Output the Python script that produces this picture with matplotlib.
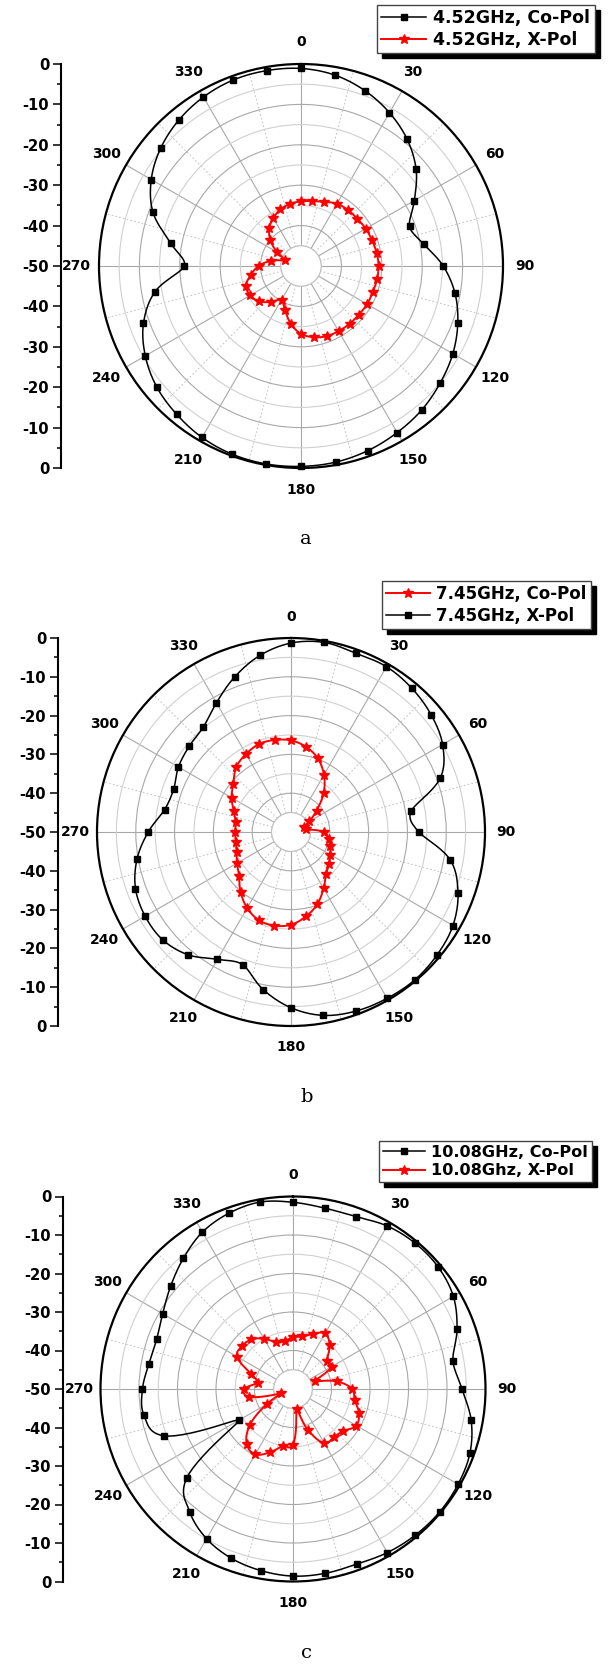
import numpy as np
import matplotlib
matplotlib.use("Agg")
import matplotlib.pyplot as plt
from matplotlib.lines import Line2D
from matplotlib.patches import Circle

# ---------------- data (dB, every 10 degrees, 0..350) ----------------
angles_deg = list(range(0, 360, 10))

a_co = [-1.1, -2.0, -3.8, -6.2, -9.1, -12.8, -17.6, -21.4, -19.1, -14.8, -11.3, -8.7,
        -6.6, -5.0, -3.5, -2.4, -1.4, -0.7, -0.4, -0.25, -0.4, -1.0, -2.1, -3.4,
        -5.5, -8.5, -13.3, -21.1, -17.2, -11.0, -7.2, -4.65, -2.9, -1.7, -1.0, -0.9]
a_x = [-34.0, -33.7, -33.1, -32.2, -31.9, -31.8, -31.5, -31.3, -31.0, -30.8, -30.9, -31.1,
       -31.1, -31.3, -31.3, -31.4, -31.5, -32.1, -33.2, -35.5, -38.4, -40.4, -38.4, -36.4,
       -35.5, -35.5, -37.4, -39.5, -42.5, -45.8, -43.2, -40.1, -37.8, -36.3, -35.1, -34.4]

b_co = [-26.4, -27.7, -29.8, -33.0, -36.9, -41.4, -44.5, -46.4, -46.1, -41.6, -40.1, -39.2,
        -38.3, -37.2, -35.9, -33.2, -30.2, -27.9, -26.1, -25.5, -25.8, -27.4, -29.8, -32.5,
        -33.9, -35.1, -35.5, -35.65, -35.5, -34.3, -32.3, -30.6, -28.1, -26.8, -25.9, -25.9]
b_x = [-1.3, -0.4, -1.0, -0.8, -1.6, -2.9, -4.9, -9.0, -18.5, -17.05, -8.3, -4.2,
       -1.8, -0.8, -0.3, -0.5, -0.9, -2.0, -4.7, -8.75, -13.6, -12.1, -8.7, -6.8,
       -6.6, -7.35, -9.7, -13.2, -16.9, -17.8, -16.5, -15.7, -14.8, -11.55, -7.5, -3.8]

c_co = [-1.5, -2.3, -2.35, -1.1, -0.6, -0.75, -1.9, -4.65, -7.8, -6.1, -3.0, -1.1,
        -0.5, -0.3, -0.5, -0.95, -1.6, -1.4, -1.4, -2.1, -3.2, -5.1, -8.3, -13.9,
        -33.7, -14.4, -10.7, -10.9, -12.0, -12.3, -10.9, -8.5, -5.7, -2.95, -1.4, -0.7]
c_x = [-36.5, -36.15, -34.8, -33.3, -35.2, -38.5, -38.4, -43.9, -38.5, -34.6, -33.75, -31.8,
       -31.0, -33.0, -33.6, -33.7, -38.7, -44.7, -35.5, -35.0, -32.5, -30.4, -31.3, -35.3,
       -42.1, -46.6, -38.4, -37.4, -40.7, -38.4, -33.2, -32.7, -33.2, -34.9, -37.1, -37.4]

angle_ticks = list(range(0, 360, 30))
angle_labels = [str(a) for a in angle_ticks]
side_tick_pos = [50, 40, 30, 20, 10, 0, -10, -20, -30, -40, -50]
side_tick_labels = ['0', '-10', '-20', '-30', '-40', '-50', '-40', '-30', '-20', '-10', '0']

panels = [
    dict(cx=301, cy=266, R=202, axx=61, leg=(377, 5), legsize=12.5, tag='a', tagpos=(306, 539),
         series=[(a_co, 'k', 's', '4.52GHz, Co-Pol'), (a_x, 'red', '*', '4.52GHz, X-Pol')]),
    dict(cx=291, cy=832, R=194, axx=58, leg=(382, 581), legsize=12, tag='b', tagpos=(307, 1097),
         series=[(b_co, 'red', '*', '7.45GHz, Co-Pol'), (b_x, 'k', 's', '7.45GHz, X-Pol')]),
    dict(cx=293, cy=1389, R=192.5, axx=63, leg=(379, 1141), legsize=11.6, tag='c',
         tagpos=(307, 1653),
         series=[(c_co, 'k', 's', '10.08GHz, Co-Pol'), (c_x, 'red', '*', '10.08Ghz, X-Pol')]),
]

W, H = 608, 1668
fig = plt.figure(figsize=(W / 100, H / 100), dpi=100)
FONT = 'DejaVu Sans'


def style(color, marker):
    if marker == 's':
        return dict(color=color, marker='s', ms=4.6, lw=1.1)
    return dict(color=color, marker='*', ms=7.5, lw=1.4)


def spline_closed(theta_deg, r, steps=12):
    """Origin-style spline connection drawn through the read points (closed curve)."""
    r = np.asarray(r, float)
    n = len(r)
    d = theta_deg[1] - theta_deg[0]
    s = np.linspace(0, 1, steps, endpoint=False)
    tt, rr = [], []
    for i in range(n):
        p0, p1, p2, p3 = r[(i - 1) % n], r[i], r[(i + 1) % n], r[(i + 2) % n]
        seg = 0.5 * (2 * p1 + (-p0 + p2) * s + (2 * p0 - 5 * p1 + 4 * p2 - p3) * s ** 2
                     + (-p0 + 3 * p1 - 3 * p2 + p3) * s ** 3)
        tt.extend(theta_deg[i] + d * s)
        rr.extend(seg)
    tt.append(theta_deg[0] + 360)
    rr.append(r[0])
    return np.deg2rad(tt), np.array(rr)


for p in panels:
    cx, cy, R = p['cx'], p['cy'], p['R']
    rect = [(cx - R) / W, (H - cy - R) / H, 2 * R / W, 2 * R / H]
    ax = fig.add_axes(rect, projection='polar')
    ax.set_theta_zero_location('N')
    ax.set_theta_direction(-1)
    ax.set_ylim(-50, 0)
    ax.set_xticks(np.deg2rad(angle_ticks))
    ax.set_xticklabels([])
    ax.set_xticks(np.deg2rad(np.arange(15, 360, 30)), minor=True)
    ax.set_yticks([-40, -30, -20, -10])
    ax.set_yticks([-45, -35, -25, -15, -5], minor=True)
    ax.set_yticklabels([])
    ax.set_yticklabels([], minor=True)
    ax.tick_params(axis='x', which='both', direction='in', length=6, width=1.2, color='k')
    ax.tick_params(axis='y', which='both', length=0)
    ax.xaxis.grid(True, which='major', color='#a8a8a8', lw=0.8, ls='-')
    ax.xaxis.grid(True, which='minor', color='#c8c8c8', lw=0.8, ls=(0, (1.5, 2)))
    ax.yaxis.grid(True, which='major', color='#a8a8a8', lw=0.8, ls='-')
    ax.yaxis.grid(True, which='minor', color='#d0d0d0', lw=0.8, ls='-')
    ax.spines['polar'].set_linewidth(1.6)
    ax.add_patch(Circle((0.5, 0.5), 0.05, transform=ax.transAxes, fc='white',
                        ec='#c0c0c0', lw=0.8, zorder=1.8))
    for ang, lab in zip(angle_ticks, angle_labels):
        ax.text(np.deg2rad(ang), 5.5, lab, ha='center', va='center', fontsize=10,
                fontweight='bold', family=FONT, clip_on=False)
    handles = []
    for vals, col, mk, lab in p['series']:
        st = style(col, mk)
        ts, rs = spline_closed(angles_deg, vals)
        ax.plot(ts, rs, color=col, lw=st['lw'], zorder=3, clip_on=False)
        ax.plot(np.deg2rad(angles_deg), vals, ls='none', marker=mk, ms=st['ms'],
                color=col, zorder=3.5, clip_on=False)
        handles.append(Line2D([], [], **st))
    fig.legend(handles=handles, labels=[s[3] for s in p['series']], loc='upper left',
               bbox_to_anchor=(p['leg'][0] / W, 1 - p['leg'][1] / H),
               bbox_transform=fig.transFigure, borderaxespad=0, frameon=True,
               fancybox=False, edgecolor='#444444', framealpha=1,
               shadow={'ox': 3.5, 'oy': -3.5, 'color': 'black', 'alpha': 1},
               prop=dict(family=FONT, weight='bold', size=p['legsize']), handlelength=2.6,
               handletextpad=0.4, borderpad=0.25, labelspacing=0.2, numpoints=1)

    sax = fig.add_axes([p['axx'] / W, (H - cy - R) / H, 0.001, 2 * R / H])
    sax.set_ylim(-50, 50)
    sax.patch.set_visible(False)
    for s in ['top', 'right', 'bottom']:
        sax.spines[s].set_visible(False)
    sax.spines['left'].set_linewidth(1.5)
    sax.set_xticks([])
    sax.set_yticks(side_tick_pos)
    sax.set_yticklabels(side_tick_labels, fontsize=10.6, fontweight='bold', family=FONT)
    sax.set_yticks(np.arange(-45, 50, 10), minor=True)
    sax.tick_params(axis='y', which='major', direction='out', length=5.5, width=1.1, pad=3)
    sax.tick_params(axis='y', which='minor', direction='out', length=3, width=1.1)

    fig.text(p['tagpos'][0] / W, 1 - p['tagpos'][1] / H, p['tag'], ha='center', va='center',
             fontsize=14, family='DejaVu Serif')

fig.savefig('out.png', dpi=100)
